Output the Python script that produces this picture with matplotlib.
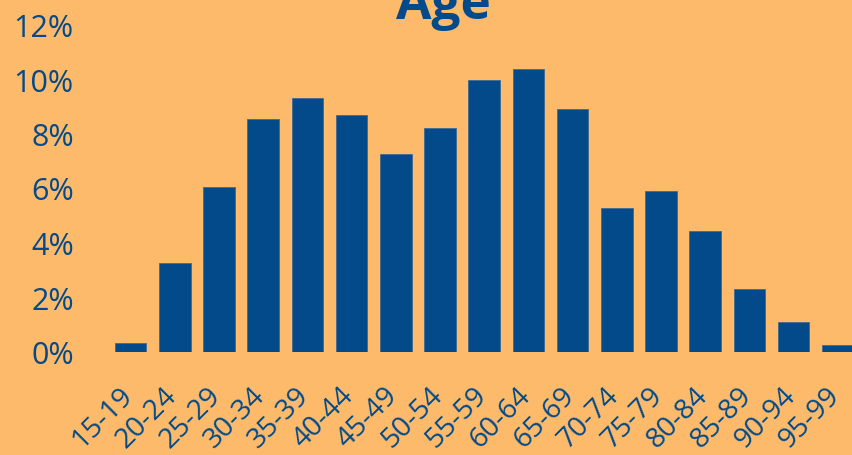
import matplotlib
matplotlib.use("Agg")
import matplotlib.pyplot as plt
from matplotlib.ticker import FuncFormatter
from matplotlib.transforms import ScaledTranslation

plt.rcParams['font.family'] = ['Open Sans', 'DejaVu Sans']

categories = ["15-19", "20-24", "25-29", "30-34", "35-39", "40-44", "45-49", "50-54",
              "55-59", "60-64", "65-69", "70-74", "75-79", "80-84", "85-89", "90-94", "95-99"]
values = [0.31, 3.24, 6.05, 8.55, 9.29, 8.68, 7.24, 8.21, 9.98, 10.37, 8.90,
          5.28, 5.89, 4.43, 2.30, 1.07, 0.24]
title = "Age"

BG = "#FCBA6A"
BLUE = "#024A8A"

W, H = 853, 456
fig = plt.figure(figsize=(W / 100, H / 100), dpi=100, facecolor=BG)
ax = fig.add_axes([108.4 / W, (H - 352.5) / H, (859.9 - 108.4) / W, 327 / H])
ax.set_facecolor(BG)

x = list(range(len(categories)))
ax.bar(x, values, width=0.715, color=BLUE, edgecolor="#3F6A93", linewidth=0.6)

ax.set_xlim(-0.5, len(categories) - 0.5)
ax.set_ylim(0, 12)
ax.set_yticks([0, 2, 4, 6, 8, 10, 12])
ax.yaxis.set_major_formatter(FuncFormatter(lambda v, p: f"{v:.0f}%"))
ax.set_xticks(x)
ax.set_xticklabels(categories, rotation=45, ha="right")

ax.tick_params(axis="y", length=0, pad=25, labelsize=22, labelcolor=BLUE)
ax.tick_params(axis="x", length=0, pad=21, labelsize=20.3, labelcolor=BLUE)
offset = ScaledTranslation(8 / 100, 0, fig.dpi_scale_trans)
for lbl in ax.get_xticklabels():
    lbl.set_transform(lbl.get_transform() + offset)
for s in ax.spines.values():
    s.set_visible(False)

fig.text(443 / W, (H - 19) / H, title, ha="center", va="baseline",
         fontsize=37, fontweight="bold", color=BLUE)

fig.savefig("out.png", dpi=100, facecolor=BG)
